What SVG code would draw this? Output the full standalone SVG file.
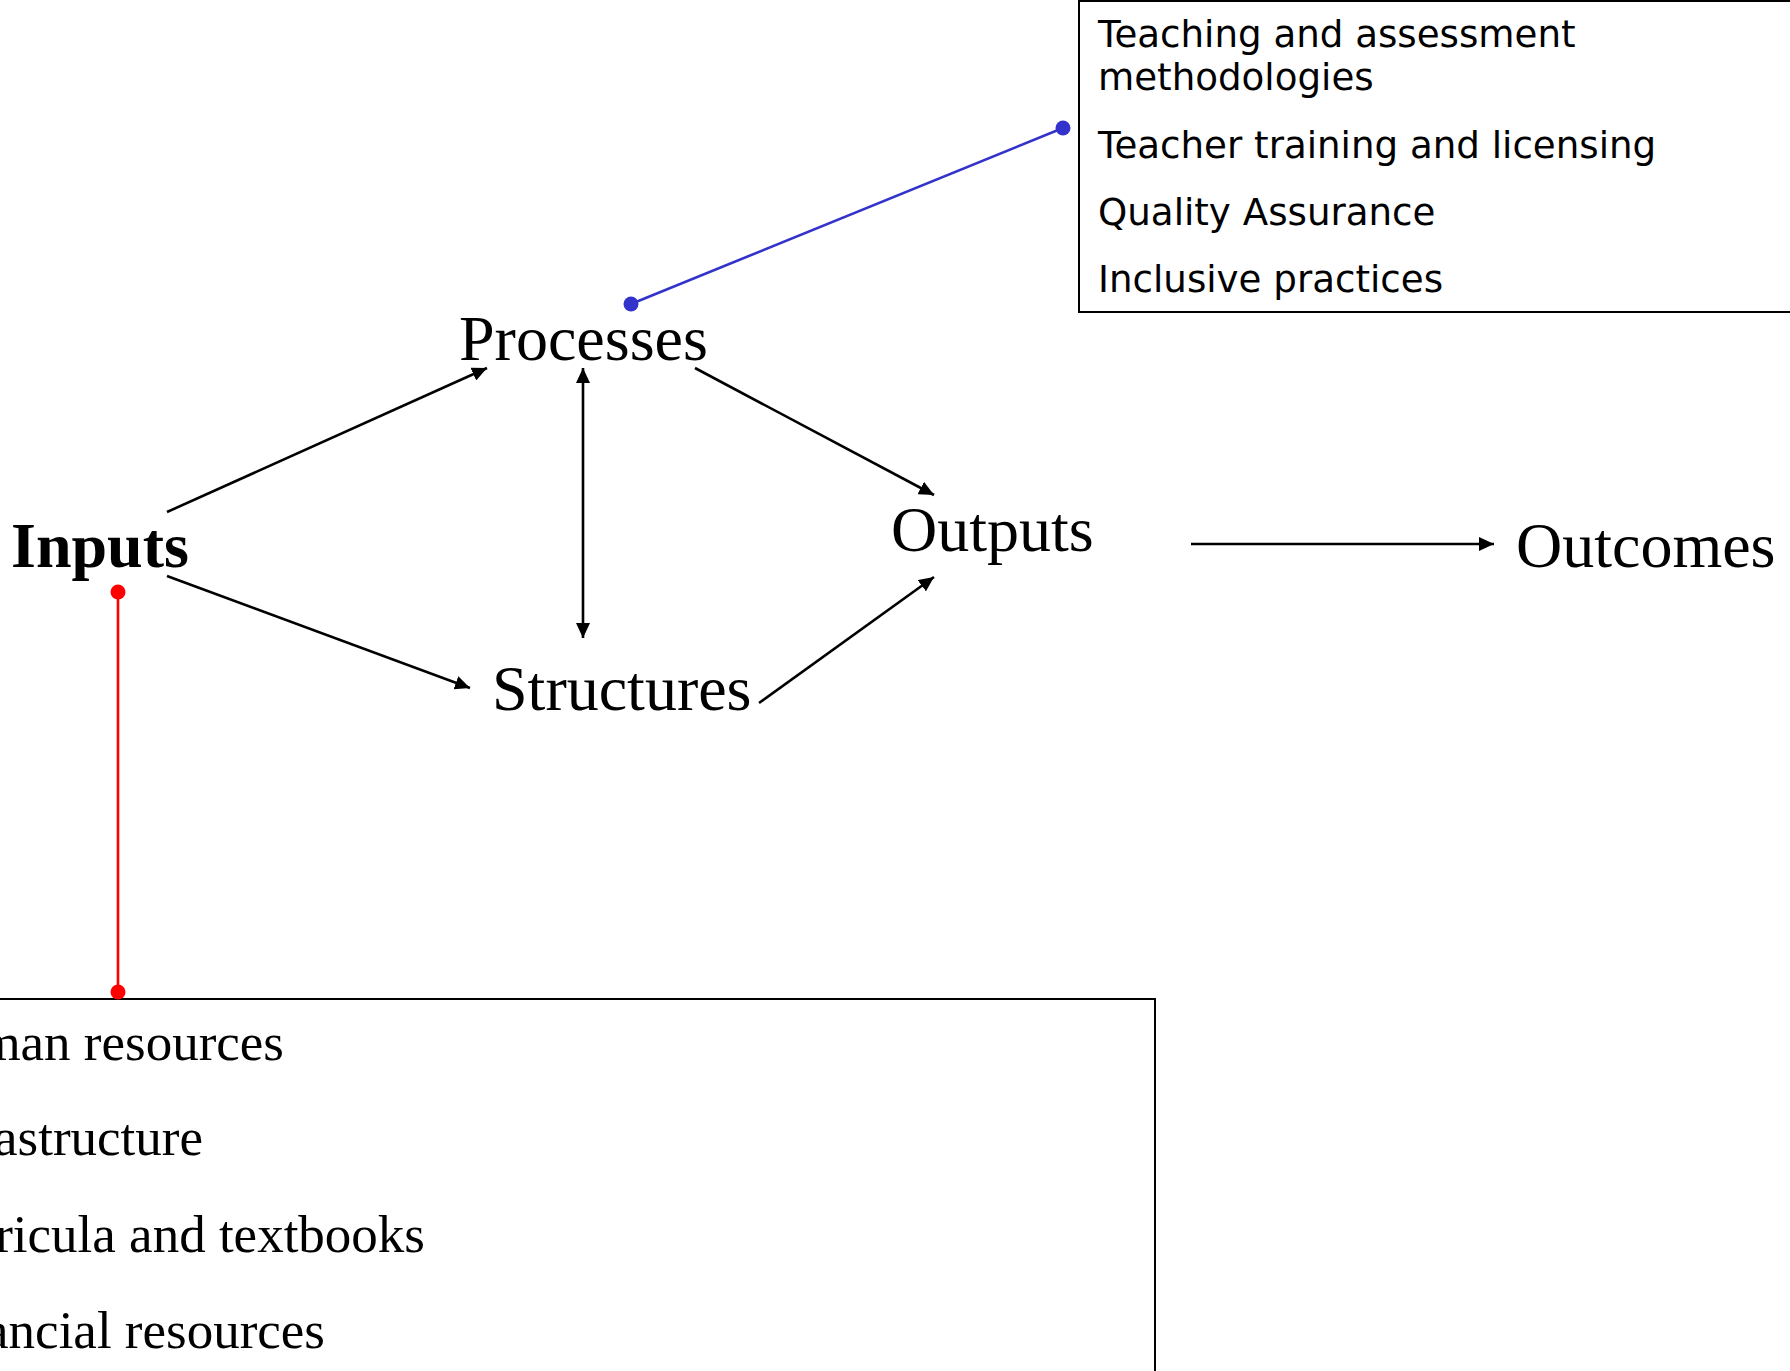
<svg xmlns="http://www.w3.org/2000/svg" width="1790" height="1371" viewBox="0 0 1790 1371">
<style>
.lbl{font-family:"Liberation Serif","Times New Roman",serif;font-size:64px;fill:#000}
.sans{font-family:"DejaVu Sans",Verdana,sans-serif;font-size:37.2px;fill:#000}
.serif{font-family:"Liberation Serif","Times New Roman",serif;font-size:53px;fill:#000}
.box{fill:none;stroke:#000;stroke-width:2}
.arr{stroke:#000;stroke-width:2.6;fill:none;marker-end:url(#ah)}
</style>
<defs>
<marker id="ah" markerUnits="userSpaceOnUse" markerWidth="16" markerHeight="14" refX="15" refY="7" orient="auto-start-reverse">
<path d="M0,0 L15,7 L0,14 z" fill="#000"/>
</marker>
</defs>
<rect width="1790" height="1371" fill="#fff"/>
<g id="processes-detail">
<rect class="box" x="1079" y="1" width="800" height="311"/>
<text class="sans" x="1098" y="47">Teaching and assessment</text>
<text class="sans" x="1098" y="90">methodologies</text>
<text class="sans" x="1098" y="158">Teacher training and licensing</text>
<text class="sans" x="1098" y="225">Quality Assurance</text>
<text class="sans" x="1098" y="292">Inclusive practices</text>
</g>
<g id="inputs-detail">
<rect class="box" x="-10" y="999" width="1165" height="420"/>
<text class="serif" x="284" y="1060" text-anchor="end">man resources</text>
<text class="serif" x="203" y="1155" text-anchor="end">astructure</text>
<text class="serif" x="425" y="1252" text-anchor="end">ricula and textbooks</text>
<text class="serif" x="325" y="1348" text-anchor="end">ancial resources</text>
</g>
<g id="inputs"><text class="lbl" x="11" y="567" font-weight="bold">Inputs</text></g>
<g id="processes"><text class="lbl" x="459" y="360">Processes</text></g>
<g id="structures"><text class="lbl" x="492" y="710">Structures</text></g>
<g id="outputs"><text class="lbl" x="891" y="551">Outputs</text></g>
<g id="outcomes"><text class="lbl" x="1516" y="567">Outcomes</text></g>
<g id="connectors">
<line class="arr" x1="167" y1="512" x2="487" y2="368"/>
<line class="arr" x1="167" y1="576" x2="470" y2="688"/>
<line class="arr" x1="583" y1="368" x2="583" y2="638" style="marker-start:url(#ah)"/>
<line class="arr" x1="695" y1="368" x2="934" y2="495"/>
<line class="arr" x1="759" y1="703" x2="934" y2="577"/>
<line class="arr" x1="1191" y1="544" x2="1494" y2="544"/>
<line x1="631" y1="304" x2="1063" y2="128" stroke="#3333cc" stroke-width="2.6"/>
<circle cx="631" cy="304" r="7.5" fill="#3333cc"/>
<circle cx="1063" cy="128" r="7.5" fill="#3333cc"/>
<line x1="118" y1="592" x2="118" y2="992" stroke="#ff0000" stroke-width="2.6"/>
<circle cx="118" cy="592" r="7.5" fill="#ff0000"/>
<circle cx="118" cy="992" r="7.5" fill="#ff0000"/>
</g>
</svg>
